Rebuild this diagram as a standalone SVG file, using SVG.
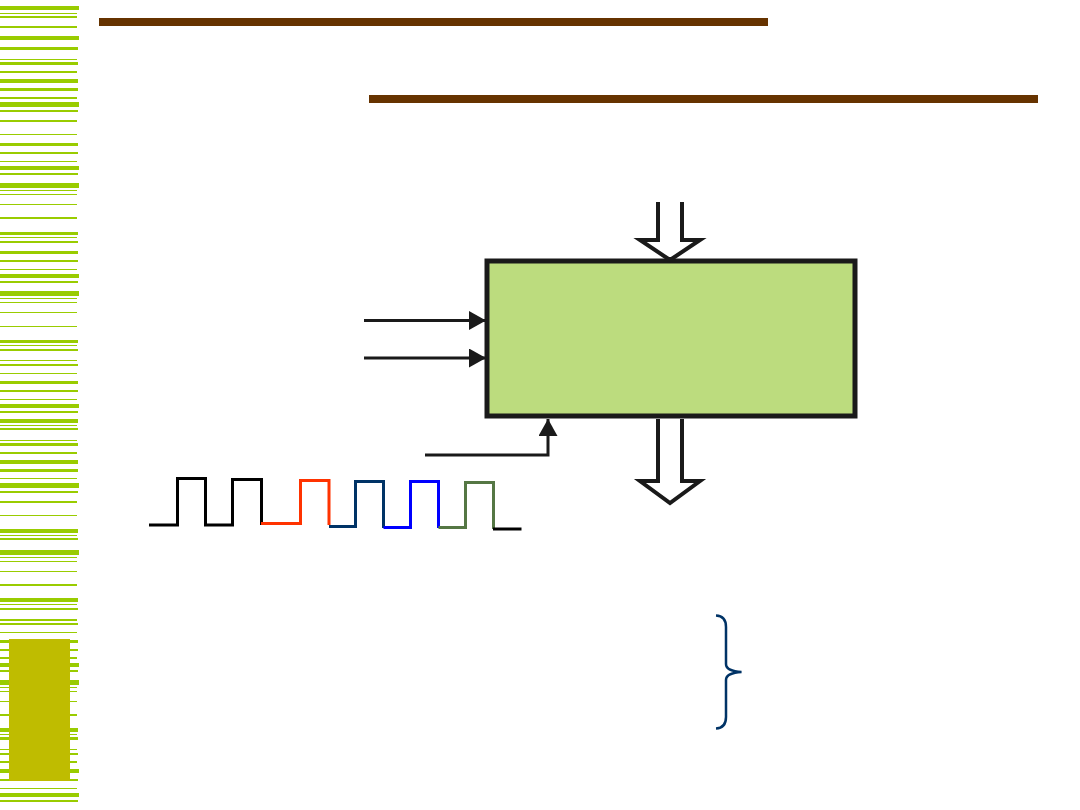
<svg xmlns="http://www.w3.org/2000/svg" width="1080" height="810" viewBox="0 0 1080 810">
<style>
.s{fill:#99CC00}
.wire{stroke:#1a1a1a;stroke-width:3;fill:none}
.hollow{stroke:#1a1a1a;stroke-width:4;fill:#ffffff;stroke-linejoin:miter}
.wave{fill:none;stroke-width:3;stroke-linejoin:miter;stroke-linecap:butt}
</style>
<defs>
<marker id="ah" markerWidth="17" markerHeight="19" refX="17" refY="9.5" orient="auto" markerUnits="userSpaceOnUse">
<path d="M0,0 L17,9.5 L0,19 Z" fill="#1a1a1a"/>
</marker>
</defs>
<rect width="1080" height="810" fill="#ffffff"/>
<g id="stripes">
<rect class="s" x="0" y="6" width="79" height="4"/><rect class="s" x="0" y="13" width="77" height="1"/><rect class="s" x="0" y="16" width="77" height="2"/><rect class="s" x="0" y="26" width="77" height="2"/><rect class="s" x="0" y="36" width="79" height="4"/><rect class="s" x="0" y="47" width="78" height="3"/><rect class="s" x="0" y="59" width="77" height="1"/><rect class="s" x="0" y="62" width="78" height="3"/><rect class="s" x="0" y="71" width="77" height="2"/><rect class="s" x="0" y="79" width="78" height="4"/><rect class="s" x="0" y="88" width="78" height="3"/><rect class="s" x="0" y="97" width="77" height="2"/><rect class="s" x="0" y="102" width="79" height="5"/><rect class="s" x="0" y="110" width="78" height="2"/><rect class="s" x="0" y="120" width="77" height="2"/><rect class="s" x="0" y="134" width="77" height="1"/><rect class="s" x="0" y="143" width="78" height="3"/><rect class="s" x="0" y="152" width="78" height="2"/><rect class="s" x="0" y="161" width="77" height="1"/><rect class="s" x="0" y="166" width="79" height="4"/><rect class="s" x="0" y="173" width="78" height="2"/><rect class="s" x="0" y="183" width="79" height="5"/><rect class="s" x="0" y="190" width="77" height="1"/><rect class="s" x="0" y="194" width="77" height="1"/><rect class="s" x="0" y="204" width="77" height="1"/><rect class="s" x="0" y="217" width="77" height="2"/><rect class="s" x="0" y="232" width="78" height="3"/><rect class="s" x="0" y="237" width="77" height="1"/><rect class="s" x="0" y="241" width="78" height="2"/><rect class="s" x="0" y="251" width="78" height="3"/><rect class="s" x="0" y="260" width="78" height="2"/><rect class="s" x="0" y="269" width="77" height="1"/>
<rect class="s" x="0" y="274" width="79" height="4"/><rect class="s" x="0" y="281" width="78" height="2"/><rect class="s" x="0" y="291" width="79" height="5"/><rect class="s" x="0" y="298" width="77" height="1"/><rect class="s" x="0" y="302" width="77" height="1"/><rect class="s" x="0" y="312" width="77" height="1"/><rect class="s" x="0" y="326" width="77" height="1"/><rect class="s" x="0" y="340" width="78" height="3"/><rect class="s" x="0" y="345" width="77" height="1"/><rect class="s" x="0" y="349" width="78" height="2"/><rect class="s" x="0" y="360" width="77" height="1"/><rect class="s" x="0" y="364" width="78" height="2"/><rect class="s" x="0" y="373" width="77" height="1"/><rect class="s" x="0" y="381" width="78" height="3"/><rect class="s" x="0" y="390" width="78" height="2"/><rect class="s" x="0" y="399" width="77" height="1"/><rect class="s" x="0" y="404" width="79" height="4"/><rect class="s" x="0" y="411" width="78" height="2"/><rect class="s" x="0" y="419" width="78" height="4"/><rect class="s" x="0" y="425" width="77" height="1"/><rect class="s" x="0" y="428" width="78" height="2"/><rect class="s" x="0" y="440" width="77" height="1"/><rect class="s" x="0" y="443" width="78" height="3"/><rect class="s" x="0" y="452" width="77" height="2"/><rect class="s" x="0" y="460" width="78" height="4"/><rect class="s" x="0" y="469" width="78" height="3"/><rect class="s" x="0" y="478" width="77" height="1"/><rect class="s" x="0" y="483" width="79" height="5"/><rect class="s" x="0" y="491" width="78" height="2"/><rect class="s" x="0" y="501" width="77" height="2"/><rect class="s" x="0" y="515" width="77" height="1"/><rect class="s" x="0" y="529" width="78" height="4"/><rect class="s" x="0" y="535" width="77" height="1"/><rect class="s" x="0" y="538" width="78" height="2"/>
<rect class="s" x="0" y="550" width="79" height="5"/><rect class="s" x="0" y="557" width="77" height="1"/><rect class="s" x="0" y="561" width="77" height="1"/><rect class="s" x="0" y="571" width="77" height="1"/><rect class="s" x="0" y="584" width="77" height="2"/><rect class="s" x="0" y="598" width="78" height="4"/><rect class="s" x="0" y="604" width="77" height="1"/><rect class="s" x="0" y="608" width="78" height="2"/><rect class="s" x="0" y="619" width="77" height="2"/><rect class="s" x="0" y="623" width="78" height="2"/><rect class="s" x="0" y="632" width="77" height="1"/><rect class="s" x="0" y="640" width="78" height="3"/><rect class="s" x="0" y="649" width="78" height="2"/><rect class="s" x="0" y="657" width="77" height="2"/><rect class="s" x="0" y="663" width="79" height="4"/><rect class="s" x="0" y="670" width="78" height="2"/><rect class="s" x="0" y="680" width="79" height="5"/><rect class="s" x="0" y="687" width="77" height="1"/><rect class="s" x="0" y="691" width="77" height="1"/><rect class="s" x="0" y="701" width="77" height="1"/><rect class="s" x="0" y="714" width="77" height="2"/><rect class="s" x="0" y="728" width="78" height="4"/><rect class="s" x="0" y="734" width="77" height="1"/><rect class="s" x="0" y="737" width="78" height="3"/><rect class="s" x="0" y="749" width="77" height="1"/><rect class="s" x="0" y="753" width="78" height="2"/><rect class="s" x="0" y="761" width="77" height="2"/><rect class="s" x="0" y="769" width="79" height="4"/><rect class="s" x="0" y="779" width="78" height="2"/><rect class="s" x="0" y="788" width="77" height="1"/><rect class="s" x="0" y="793" width="79" height="4"/><rect class="s" x="0" y="800" width="78" height="2"/>
</g>
<rect id="olive-block" x="9" y="639" width="61" height="142" fill="#BFBC00"/>
<g id="rules">
<rect x="99" y="18" width="669" height="8" fill="#663300"/>
<rect x="369" y="95" width="669" height="8" fill="#663300"/>
</g>
<g id="block">
<rect x="487" y="261" width="368" height="155" fill="#BCDC7E" stroke="#1a1a1a" stroke-width="5"/>
</g>
<g id="connectors">
<path class="hollow" d="M658,202 V240 H640 L670,260 L700,240 H682 V202"/>
<path class="hollow" d="M658,419 V481 H640 L670,503 L700,481 H682 V419"/>
<line class="wire" x1="364" y1="320.5" x2="486" y2="320.5" marker-end="url(#ah)"/>
<line class="wire" x1="364" y1="358" x2="486" y2="358" marker-end="url(#ah)"/>
<path class="wire" d="M425,455 H548 V419" marker-end="url(#ah)"/>
</g>
<g id="clock-wave">
<path class="wave" stroke="#000000" d="M149,525 H177.5 V478.5 H205.5 V525 H232.5 V479.5 H261.5 V525"/>
<path class="wave" stroke="#FF3300" d="M261,523.5 H300.5 V480.5 H329 V525"/>
<path class="wave" stroke="#003366" d="M329,526.5 H355.5 V481.5 H383.5 V528"/>
<path class="wave" stroke="#0000FF" d="M383.5,527.5 H410.5 V481.5 H438.5 V528"/>
<path class="wave" stroke="#557744" d="M438.5,527.5 H465.5 V482.5 H493.5 V529"/>
<path class="wave" stroke="#000000" d="M493,529 H521.5"/>
</g>
<g id="brace">
<path d="M716,615.5 Q726,616 726,627 V664 Q726,671 741.5,672 Q726,673 726,680 V717 Q726,728 716,728.5" fill="none" stroke="#003366" stroke-width="2.5"/>
</g>
</svg>
